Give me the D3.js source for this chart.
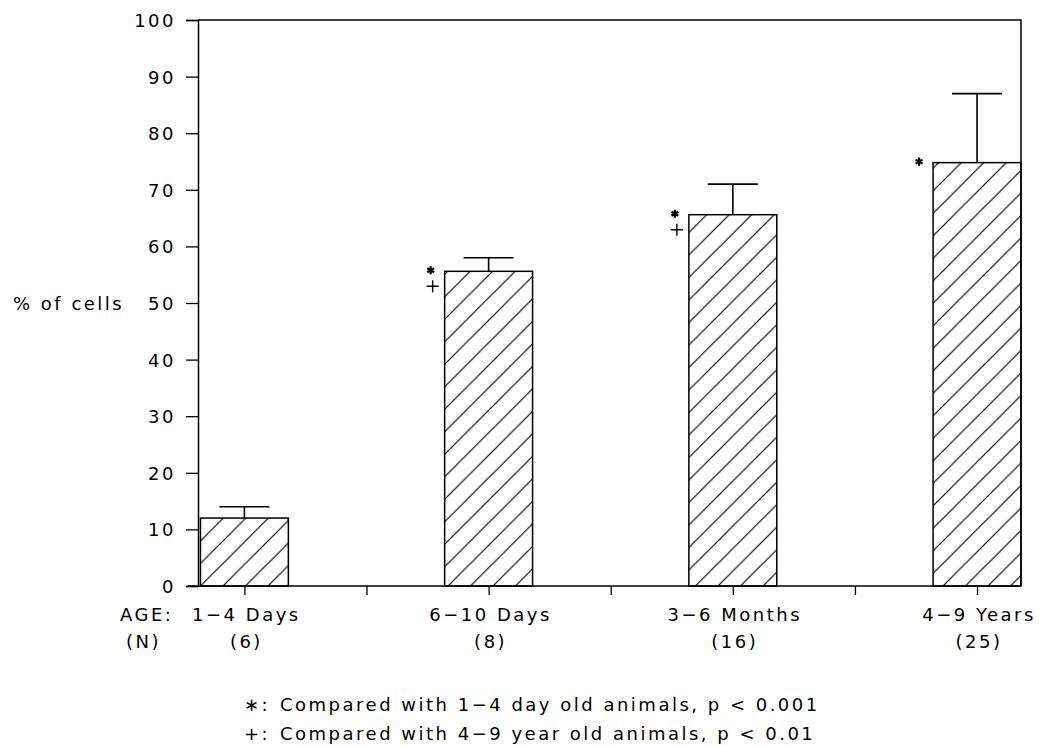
<!DOCTYPE html>
<html>
<head>
<meta charset="utf-8">
<script src="https://cdn.jsdelivr.net/npm/d3@7"></script>
<style>
  html, body { margin: 0; padding: 0; background: #fff; }
  svg { display: block; }
  text { font-family: "DejaVu Sans", sans-serif; font-size: 18px; letter-spacing: 2.5px; fill: #000; }
</style>
</head>
<body>
<svg id="chart" width="1039" height="746"></svg>
<script>
const categories = ["1\u22124 Days", "6\u221210 Days", "3\u22126 Months", "4\u22129 Years"];
const nLabels = ["(6)", "(8)", "(16)", "(25)"];
const values = [12, 55.6, 65.6, 74.8];
const errorTops = [14, 58, 71, 87];
const markers = [[], ["asterisk", "plus"], ["asterisk", "plus"], ["asterisk"]];
const yTicks = [0, 10, 20, 30, 40, 50, 60, 70, 80, 90, 100];
const xTicks = [0, 0.5, 1, 1.5, 2, 2.5, 3];
const legendLines = [
  ["\u2217:", "Compared with 1\u22124 day old animals, p < 0.001"],
  ["+:", "Compared with 4\u22129 year old animals, p < 0.01"]
];

(function () {
const svg = d3.select("#chart");
const mLeft = 198, mRight = 1021, mTop = 20, mBottom = 586;
const x = d3.scaleLinear().domain([-0.19, 3.18]).range([mLeft, mRight]);
const y = d3.scaleLinear().domain([0, 100]).range([mBottom, mTop]);
const barW = x(0.36) - x(0);

const defs = svg.append("defs");
const s = 22.5;
const pat = defs.append("pattern").attr("id", "hatch")
  .attr("patternUnits", "userSpaceOnUse").attr("width", s).attr("height", s)
  .attr("x", x(0) - barW / 2).attr("y", mBottom);
pat.append("path")
  .attr("d", `M0,${s} L${s},0 M${-s/4},${s/4} L${s/4},${-s/4} M${s*3/4},${s*5/4} L${s*5/4},${s*3/4}`)
  .attr("stroke", "#000").attr("stroke-width", 1.2);

// Bars
svg.append("g").selectAll("rect").data(values).join("rect")
  .attr("x", (d, i) => x(i) - barW / 2)
  .attr("y", d => y(d))
  .attr("width", barW)
  .attr("height", d => y(0) - y(d))
  .attr("fill", "url(#hatch)")
  .attr("stroke", "#000").attr("stroke-width", 1.5);

// Error bars
const capW = 50;
const eg = svg.append("g").attr("stroke", "#000").attr("stroke-width", 1.6);
errorTops.forEach((e, i) => {
  eg.append("line").attr("x1", x(i)).attr("x2", x(i)).attr("y1", y(values[i])).attr("y2", y(e));
  eg.append("line").attr("x1", x(i) - capW / 2).attr("x2", x(i) + capW / 2).attr("y1", y(e)).attr("y2", y(e));
});

// Frame (top and right)
svg.append("path")
  .attr("d", `M${mLeft},${mTop} L${mRight},${mTop} L${mRight},${mBottom}`)
  .attr("fill", "none").attr("stroke", "#000").attr("stroke-width", 1.5);

// Y axis
const yAxis = d3.axisLeft(y).tickValues(yTicks).tickSize(12).tickPadding(12).tickFormat(d3.format("d"));
const gy = svg.append("g").attr("transform", `translate(${mLeft},0)`).call(yAxis);
gy.select(".domain").attr("stroke-width", 1.5);
gy.selectAll(".tick line").attr("stroke-width", 1.3);
gy.selectAll(".tick text").attr("font-family", "DejaVu Sans").attr("font-size", 18).attr("dy", "0.36em").attr("dx", 2);

// X axis
const xAxis = d3.axisBottom(x).tickValues(xTicks).tickSize(9).tickFormat("");
const gx = svg.append("g").attr("transform", `translate(0,${mBottom})`).call(xAxis);
gx.select(".domain").attr("d", `M${mLeft - 10},0 L${mRight},0`).attr("stroke-width", 1.5);
gx.selectAll(".tick line").attr("stroke-width", 1.3);

// Category labels
svg.append("g").selectAll("text").data(categories).join("text")
  .attr("x", (d, i) => x(i) + 2).attr("y", mBottom + 35)
  .attr("text-anchor", "middle").text(d => d);
svg.append("g").selectAll("text").data(nLabels).join("text")
  .attr("x", (d, i) => x(i) + 2).attr("y", mBottom + 62)
  .attr("text-anchor", "middle").text(d => d);
svg.append("text").attr("x", 120).attr("y", mBottom + 35).text("AGE:");
svg.append("text").attr("x", 126).attr("y", mBottom + 62).text("(N)");

// Y label
svg.append("text").attr("x", 13).attr("y", y(50) + 7).text("% of cells");

// Significance markers (drawn as symbols)
const symAst = d3.symbol().type(d3.symbolAsterisk).size(45);
const symPlus = d3.symbol().type(d3.symbolPlus).size(50);
markers.forEach((m, i) => {
  const bx = x(i) - barW / 2;
  const by = y(values[i]);
  m.forEach(kind => {
    if (kind === "asterisk") {
      svg.append("path").attr("d", symAst())
        .attr("transform", `translate(${bx - 14},${by - 1})`)
        .attr("fill", "none").attr("stroke", "#000").attr("stroke-width", 2.2);
    } else {
      svg.append("path").attr("d", symPlus())
        .attr("transform", `translate(${bx - 12},${by + 15})`)
        .attr("fill", "none").attr("stroke", "#000").attr("stroke-width", 1.4);
    }
  });
});

// Legend
legendLines.forEach((l, i) => {
  svg.append("text").attr("x", 244).attr("y", 711 + i * 29).text(l[0]);
  svg.append("text").attr("x", 280).attr("y", 711 + i * 29).text(l[1]);
});
})();
</script>
</body>
</html>
